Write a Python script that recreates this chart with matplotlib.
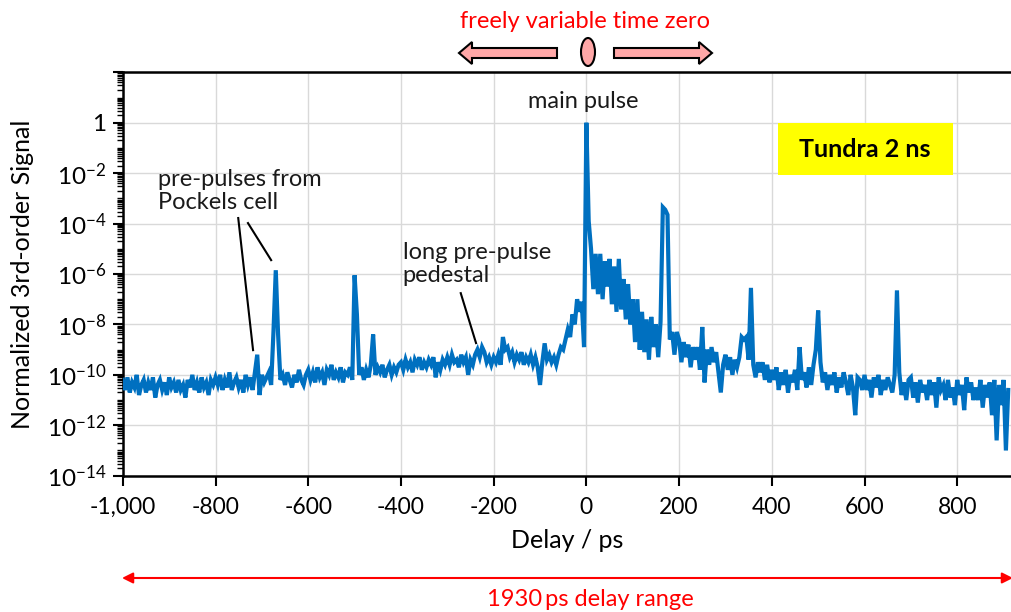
import numpy as np
import matplotlib
matplotlib.use('Agg')
import matplotlib.pyplot as plt
from matplotlib.patches import FancyArrow, Ellipse, Rectangle
from matplotlib.ticker import LogLocator, FixedLocator, NullFormatter, FuncFormatter

plt.rcParams['font.family'] = ['Lato', 'DejaVu Sans']
plt.rcParams['mathtext.fontset'] = 'custom'
plt.rcParams['mathtext.rm'] = 'Lato'
plt.rcParams['mathtext.it'] = 'Lato:italic'

# muestreo del retardo (ps), un punto cada 5 ps
delay_start, delay_step = -1000, 5

# log10 de la señal, filas de 100 ps
log_signal = [
    -10.2, -10.6, -10.1, -10.7, -10.3, -10.5, -10.0, -10.8, -10.4, -10.2, -10.7, -10.3, -10.6, -10.1, -10.9, -10.4, -10.2, -10.6, -10.3, -10.8,
    -10.1, -10.5, -10.3, -10.7, -10.2, -10.6, -10.4, -10.9, -10.2, -10.5, -10.0, -10.6, -10.3, -10.7, -10.1, -10.5, -10.3, -10.8, -10.2, -10.4,
    -10.1, -10.4, -10.0, -10.6, -10.2, -10.5, -9.9, -10.6, -10.3, -10.1, -10.5, -10.2, -10.7, -10.0, -10.4, -10.1, -10.6, -9.9, -9.2, -10.8,
    -10.0, -10.3, -10.1, -9.9, -10.4, -8.3, -5.85, -8.4, -10.2, -10.0, -10.4, -9.9, -10.2, -10.5, -10.0, -10.3, -9.8, -10.2, -10.4, -10.0,
    -9.8, -10.2, -9.9, -10.3, -9.7, -10.1, -9.9, -10.4, -9.8, -10.0, -9.6, -10.2, -9.9, -10.1, -9.7, -10.3, -9.9, -10.0, -9.7, -10.2,
    -6.05, -7.6, -10.0, -9.7, -10.2, -9.8, -10.1, -9.6, -8.4, -10.0, -9.7, -9.9, -9.6, -10.1, -9.8, -9.6, -10.0, -9.7, -9.9, -9.6,
    -9.5, -9.8, -9.4, -9.7, -9.5, -9.9, -9.4, -9.6, -9.3, -9.8, -9.5, -9.7, -9.4, -9.6, -9.3, -10.1, -9.5, -9.8, -9.4, -9.6,
    -9.3, -9.6, -9.2, -9.5, -9.4, -9.7, -9.2, -9.5, -9.3, -10.0, -9.4, -9.6, -9.2, -9.0, -9.3, -8.9, -9.1, -9.5, -9.3, -9.6,
    -9.3, -9.5, -9.2, -9.6, -8.5, -9.0, -8.9, -9.3, -9.1, -9.5, -9.2, -9.4, -9.1, -9.6, -9.3, -9.5, -9.2, -9.6, -9.3, -9.7,
    -10.4, -9.5, -8.75, -9.4, -9.2, -9.5, -9.3, -9.6, -9.2, -8.9, -9.0, -8.6, -8.2, -8.5, -7.6, -8.0, -7.0, -7.5, -7.1, -8.9,
    0.0, -3.9, -5.0, -6.6, -5.2, -6.8, -5.2, -7.0, -5.5, -6.5, -5.4, -7.2, -5.7, -7.5, -5.4, -7.4, -6.2, -7.8, -6.4, -8.0,
    -7.0, -8.7, -7.0, -9.0, -7.5, -9.1, -7.8, -9.4, -7.7, -8.9, -8.0, -9.3, -7.9, -3.35, -3.45, -3.65, -8.6, -8.3, -9.2, -8.3,
    -8.6, -9.5, -8.7, -9.3, -8.8, -9.7, -8.9, -9.4, -8.9, -9.8, -8.1, -10.3, -9.0, -9.6, -8.9, -9.5, -9.1, -9.9, -10.7, -9.6,
    -9.2, -9.8, -9.3, -10.0, -9.4, -9.7, -9.3, -8.5, -8.6, -8.5, -9.4, -6.55, -9.6, -10.1, -9.5, -9.9, -9.5, -10.2, -9.6, -10.3,
    -9.8, -10.2, -9.7, -10.6, -9.9, -10.4, -9.8, -10.7, -10.0, -10.3, -9.8, -10.6, -8.9, -10.2, -9.9, -10.5, -9.7, -10.4, -9.6, -9.0,
    -7.45, -9.5, -10.3, -9.9, -10.6, -10.0, -10.4, -9.9, -10.7, -10.1, -10.5, -9.9, -10.3, -10.8, -10.0, -10.5, -11.6, -10.1, -10.2, -10.6,
    -10.0, -10.6, -10.2, -10.9, -10.1, -10.5, -10.0, -10.8, -10.2, -10.6, -10.1, -10.4, -10.7, -10.0, -6.65, -9.9, -10.8, -10.3, -11.0, -10.2,
    -10.1, -10.9, -10.3, -11.1, -10.2, -10.7, -10.4, -11.0, -10.2, -10.8, -10.3, -11.3, -10.1, -10.6, -10.4, -11.0, -10.2, -10.9, -10.5, -11.2,
    -10.2, -10.8, -10.4, -11.4, -10.1, -10.7, -10.3, -11.0, -10.5, -11.0, -10.2, -11.3, -10.4, -10.9, -10.3, -11.6, -10.2, -12.6, -10.4, -11.2,
    -10.2, -13.0, -10.6,
]

x_ticks = [-1000, -800, -600, -400, -200, 0, 200, 400, 600, 800]
y_ticks = [1e-14, 1e-12, 1e-10, 1e-8, 1e-6, 1e-4, 1e-2, 1, 1e2]

delay = delay_start + delay_step * np.arange(len(log_signal))
signal = 10.0 ** np.array(log_signal)

W, H = 1011, 612
fig = plt.figure(figsize=(W / 100, H / 100), dpi=100)
ax = fig.add_axes([122.8 / W, 1 - 475.7 / H, (W - 122.8) / W, (475.7 - 72.3) / H])

ax.plot(delay, signal, color='#0070C0', lw=3.0, solid_joinstyle='miter', zorder=3)

ax.set_yscale('log')
ax.set_xlim(-1000, 916)
ax.set_ylim(1e-14, 1e2)

ax.xaxis.set_major_locator(FixedLocator(x_ticks))
ax.xaxis.set_major_formatter(FuncFormatter(lambda v, p: f'{int(v):,}'))
ax.yaxis.set_major_locator(FixedLocator(y_ticks))
ax.yaxis.set_minor_locator(LogLocator(base=10, subs=np.arange(1, 10), numticks=100))
ax.yaxis.set_minor_formatter(NullFormatter())


def ylab(v, p):
    e = int(round(np.log10(v)))
    if e > 0:
        return ''
    if e == 0:
        return '1'
    return r'$\mathregular{10^{%d}}$' % e


ax.yaxis.set_major_formatter(FuncFormatter(ylab))

ax.tick_params(axis='both', which='major', direction='out', length=7, width=1.5, labelsize=16.5, colors='black')
ax.tick_params(axis='y', which='major', labelsize=17.5)
ax.tick_params(axis='y', which='minor', direction='out', length=4, width=1)
ax.tick_params(axis='x', pad=8)
ax.tick_params(axis='y', pad=5)

ax.grid(True, which='major', color='#d9d9d9', lw=1, zorder=0)
for s in ['left', 'bottom', 'top']:
    ax.spines[s].set_linewidth(1.8)
ax.spines['right'].set_visible(False)

ax.set_xlabel('Delay / ps', fontsize=18, labelpad=8)
ax.set_ylabel('Normalized 3rd-order Signal', fontsize=18)
ax.yaxis.set_label_coords((34 - 122.8) / (W - 122.8), 0.5)

# anotaciones
txt_col = '#1a1a1a'
ax.text(-7, 10 ** 0.86, 'main pulse', fontsize=17, ha='center', va='center', color=txt_col)
ax.text(-924, 10 ** -2.71, 'pre-pulses from\nPockels cell', fontsize=17, ha='left', va='center',
        color=txt_col, linespacing=1.15)
ax.plot([-751, -719], [10 ** -3.78, 10 ** -9.02], color='black', lw=1.5, zorder=4)
ax.plot([-730, -680], [10 ** -3.98, 10 ** -5.45], color='black', lw=1.5, zorder=4)
ax.text(-396, 10 ** -5.6, 'long pre-pulse\npedestal', fontsize=17, ha='left', va='center',
        color=txt_col, linespacing=1.15)
ax.plot([-271, -238], [10 ** -6.76, 10 ** -8.74], color='black', lw=1.5, zorder=4)

ax.add_patch(Rectangle((413.6, 10 ** -2.08), 791 - 413.6, 10 ** -0.01 - 10 ** -2.08,
                       facecolor='#FFFF00', edgecolor='none', zorder=4))
ax.text(600, 10 ** -1.05, 'Tundra 2 ns', fontsize=18, fontweight='bold', ha='center', va='center', zorder=5)

# flechas superiores (en pulgadas, desde abajo)
def px(x, y):
    return x / 100, (H - y) / 100

pink = '#FFA7A7'
x0, y0 = px(557, 53)
fig.add_artist(FancyArrow(x0, y0, -(557 - 459) / 100, 0, width=0.10, head_width=0.22, head_length=0.13,
                          length_includes_head=True, facecolor=pink, edgecolor='black', lw=1.5,
                          transform=fig.dpi_scale_trans))
x0, y0 = px(614, 53)
fig.add_artist(FancyArrow(x0, y0, (712 - 614) / 100, 0, width=0.10, head_width=0.22, head_length=0.13,
                          length_includes_head=True, facecolor=pink, edgecolor='black', lw=1.5,
                          transform=fig.dpi_scale_trans))
fig.add_artist(Ellipse(px(588, 52), 0.14, 0.28, facecolor=pink, edgecolor='black', lw=1.5,
                       transform=fig.dpi_scale_trans))
fig.text(585 / W, 1 - 21 / H, 'freely variable time zero', color='red', fontsize=17, ha='center', va='center')

# rango de retardo
ax.annotate('', xy=(1013, H - 578), xytext=(122, H - 578), xycoords='figure pixels', textcoords='figure pixels',
            arrowprops=dict(arrowstyle='<|-|>', color='red', lw=1.5, mutation_scale=16, shrinkA=0, shrinkB=0),
            annotation_clip=False)
fig.text(590 / W, 1 - 600 / H, '1930\u2009ps delay range', color='red', fontsize=17, ha='center', va='center')

fig.savefig('out.png', dpi=100)
